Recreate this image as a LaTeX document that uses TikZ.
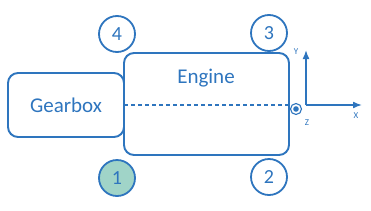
\documentclass[tikz,border=0pt]{standalone}
\usepackage{fontspec}
\setmainfont{Carlito}
\usetikzlibrary{arrows.meta}

\definecolor{lineblue}{RGB}{46,117,190}
\definecolor{mountfill}{RGB}{160,212,200}

\tikzset{
  part/.style={draw=lineblue,line width=1.9pt,rounded corners=10pt,text=lineblue,font=\fontsize{21}{23}\selectfont},
  mount/.style={circle,draw=lineblue,line width=1.8pt,minimum size=36pt,inner sep=0pt,text=lineblue,font=\fontsize{20}{22}\selectfont},
  axis/.style={lineblue,line width=1.6pt,-{Latex[length=9pt,width=7pt]}},
  axlabel/.style={text=lineblue,font=\fontsize{9}{10}\selectfont,inner sep=1pt}
}

\begin{document}
\begin{tikzpicture}[x=1pt,y=1pt]
    \useasboundingbox (0,0) rectangle (371,210);

    % Boxes
    \node[part,minimum width=116pt,minimum height=64pt] (gearbox) at (66,105) {Gearbox};
    \node[part,minimum width=165pt,minimum height=102pt] (engine) at (206.5,106) {};
    \node[text=lineblue,font=\fontsize{21}{23}\selectfont] (enginelabel) at (206,132) {Engine};

    % Centre line
    \coordinate (cl1) at (124,105);
    \coordinate (cl2) at (289,105);
    \draw[lineblue,line width=1.2pt,dash pattern=on 4pt off 3pt] (cl1) -- (cl2);

    % Mounts
    \node[mount,fill=mountfill] (m1) at (117,32) {1};
    \node[mount,fill=white] (m2) at (269,33) {2};
    \node[mount,fill=white] (m3) at (269,177) {3};
    \node[mount,fill=white] (m4) at (117,176) {4};

    % Coordinate system
    \coordinate (o) at (306,105);
    \coordinate (xend) at (362,105);
    \coordinate (yend) at (306,160);
    \draw[axis] (o) -- (xend);
    \draw[axis] (o) -- (yend);
    \node[circle,draw=lineblue,line width=1.1pt,minimum size=11pt,inner sep=0pt,fill=white] (zdot) at (296,101) {};
    \fill[lineblue] (zdot.center) circle (2.8pt);
    \node[axlabel] (xlab) at (356,94) {X};
    \node[axlabel] (ylab) at (296,158) {Y};
    \node[axlabel] (zlab) at (307,87) {Z};
\end{tikzpicture}
\end{document}
